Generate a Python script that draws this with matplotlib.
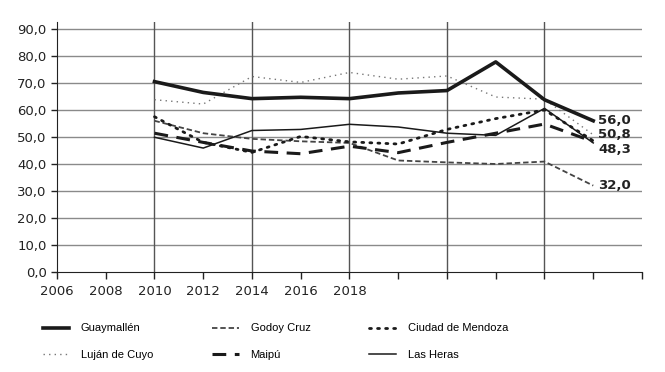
import matplotlib
matplotlib.use("Agg")
import matplotlib.pyplot as plt
import numpy as np

years = [2010, 2012, 2014, 2016, 2018, 2020, 2022, 2024, 2026, 2028]

guaymallen = [70.5, 66.5, 64.2, 64.7, 64.2, 66.3, 67.2, 77.8, 63.8, 56.0]
godoy_cruz = [56.0, 51.4, 49.3, 48.4, 47.8, 41.3, 40.6, 40.0, 40.9, 32.0]
ciudad_mendoza = [57.5, 48.0, 44.3, 50.2, 48.2, 47.4, 52.8, 56.8, 60.0, 48.6]
lujan = [63.8, 62.2, 72.4, 70.2, 73.9, 71.4, 72.6, 64.8, 64.0, 50.8]
maipu = [51.4, 48.0, 44.8, 43.8, 46.6, 44.2, 48.0, 51.4, 54.8, 48.3]
las_heras = [49.9, 45.9, 52.4, 52.8, 54.7, 53.7, 51.4, 50.6, 60.6, 47.8]

end_labels = ["56,0", "50,8", "48,3", "32,0"]
end_values = [56.0, 50.8, 45.3, 32.0]  # 48,3 label sits just below its line end

yticks = np.arange(0, 91, 10)
xticks = np.arange(2006, 2031, 2)
xlabels = [str(y) if y <= 2018 else "" for y in xticks]

fig = plt.figure(figsize=(6.65, 3.72), dpi=100)
ax = fig.add_axes([0.0857, 0.2688, 0.8797, 0.6729])

# horizontal and vertical grid
for yv in yticks[1:]:
    ax.axhline(yv, color="#8a8a8a", lw=1.0, zorder=1)
for xv in [2010, 2014, 2018, 2022, 2026]:
    ax.axvline(xv, color="#555555", lw=1.0, zorder=1)

l1, = ax.plot(years, guaymallen, color="#1a1a1a", lw=2.6, label="Guaymallén", zorder=5)
l2, = ax.plot(years, godoy_cruz, color="#444444", lw=1.3, dashes=(3, 1.6), label="Godoy Cruz", zorder=4)
l3, = ax.plot(years, ciudad_mendoza, color="#1a1a1a", lw=2.0, dashes=(0.7, 2.2),
              dash_capstyle="round", label="Ciudad de Mendoza", zorder=4)
l4, = ax.plot(years, lujan, color="#777777", lw=1.0, dashes=(1, 3), label="Luján de Cuyo", zorder=3)
l5, = ax.plot(years, maipu, color="#1a1a1a", lw=2.2, dashes=(4.5, 2.8), label="Maipú", zorder=4)
l6, = ax.plot(years, las_heras, color="#1a1a1a", lw=1.1, label="Las Heras", zorder=4)

for txt, v in zip(end_labels, end_values):
    ax.text(years[-1] + 0.2, v, txt, fontsize=9.5, fontweight="bold",
            color="#222222", va="center", ha="left", zorder=6)

ax.set_xlim(2006, 2030)
ax.set_ylim(0, 92.7)
ax.set_xticks(xticks)
ax.set_xticklabels(xlabels)
ax.set_yticks(yticks)
ax.set_yticklabels([f"{v:.1f}".replace(".", ",") for v in yticks])
ax.tick_params(axis="both", labelsize=9.5, colors="#222222", length=4, width=1, direction="out")
ax.tick_params(axis="x", length=5, pad=4)

for s in ["top", "right"]:
    ax.spines[s].set_visible(False)
ax.spines["left"].set_color("#222222")
ax.spines["bottom"].set_color("#222222")

handles = [l1, l4, l2, l5, l3, l6]
fig.legend(handles=handles, labels=[h.get_label() for h in handles],
           loc="center", bbox_to_anchor=(0.414, 0.082), ncol=3, frameon=False,
           prop={"family": "Liberation Sans", "size": 8},
           handlelength=2.4, handletextpad=1.05, columnspacing=5.3, labelspacing=1.45)

fig.savefig("out.png", dpi=100)
